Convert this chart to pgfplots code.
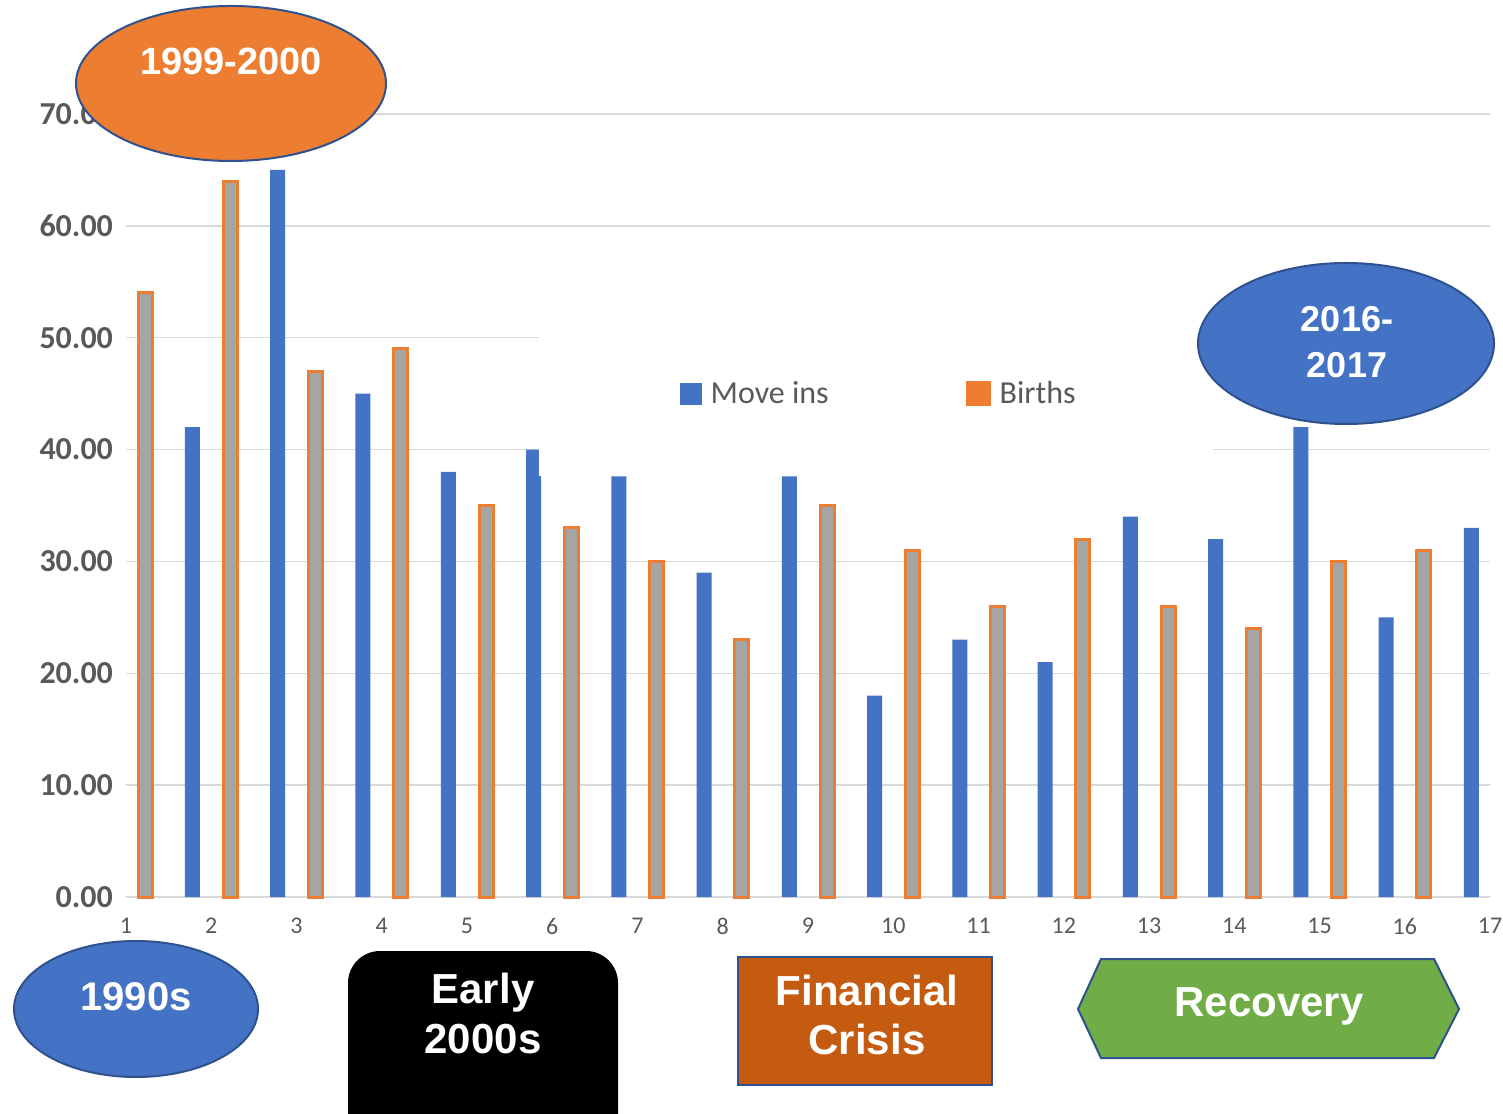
\documentclass[border=0pt]{standalone}
\usepackage{pgfplots}
\pgfplotsset{compat=1.18}
\usepackage{fontspec}
\setmainfont{Carlito}
\newfontfamily\annfont{Liberation Sans}

\definecolor{xblue}{HTML}{4472C4}
\definecolor{xorange}{HTML}{ED7D31}
\definecolor{xgray}{HTML}{A5A5A5}
\definecolor{xgrid}{HTML}{D9D9D9}
\definecolor{xtext}{HTML}{595959}
\definecolor{xedge}{HTML}{2F528F}
\definecolor{xdorange}{HTML}{C55A11}
\definecolor{xgreen}{HTML}{70AD47}

% picture laid out in pixels of the reference: 1 px = 0.5pt, origin at (126,897)
\tikzset{px/.style={x=0.5pt,y=-0.5pt,xshift=-63pt,yshift=448.5pt},
  ann/.style={text=white,align=center,font=\annfont\bfseries#1}}

\begin{document}
\begin{tikzpicture}
\begin{axis}[
    at={(0,0)}, anchor=south west,
    scale only axis,
    width=682pt, height=391.5pt,
    xmin=1, xmax=17, ymin=0, ymax=70,
    axis line style={draw=none},
    major tick length=0pt,
    xtick={1,...,17},
    ytick={0,10,...,70},
    ymajorgrids,
    grid style={xgrid, line width=0.75pt},
    /pgf/number format/assume math mode=true,
    yticklabel={\pgfmathprintnumber[fixed,fixed zerofill,precision=2]{\tick}},
    yticklabel style={font=\fontsize{16}{19}\selectfont\bfseries, text=xtext, xshift=-3pt},
    xticklabel style={font=\fontsize{12}{14}\selectfont, text=xtext, yshift=-7pt},
    clip=false,
    legend columns=2,
    legend style={draw=none, fill=none, at={(axis cs:7.49,45.0)}, anchor=west,
        inner sep=0pt, font=\fontsize{16}{19}\selectfont, text=xtext,
        /tikz/every even column/.append style={column sep=66.5pt},
        /tikz/every odd column/.append style={column sep=2.5pt}},
]
\addplot[ybar, bar shift=0pt, bar width=7.5pt, fill=xblue, draw=none,
    legend image code/.code={\fill[xblue] (0pt,-5.5pt) rectangle (11pt,5.5pt);}]
    coordinates {(1.78,42) (2.78,65) (3.78,45) (4.78,38) (5.78,40) (6.78,37.6)
    (7.78,29) (8.78,37.6) (9.78,18) (10.78,23) (11.78,21) (12.78,34)
    (13.78,32) (14.78,42) (15.78,25) (16.78,33)};
\addlegendentry{Move ins}
\addplot[ybar, bar shift=0pt, bar width=7pt, fill=xgray, draw=xorange, line width=1.5pt,
    legend image code/.code={\fill[xorange] (0pt,-5.5pt) rectangle (11pt,5.5pt);}]
    coordinates {(1.225,54) (2.225,64) (3.225,47) (4.225,49) (5.225,35) (6.225,33)
    (7.225,30) (8.225,23) (9.225,35) (10.225,31) (11.225,26) (12.225,32)
    (13.225,26) (14.225,24) (15.225,30) (16.225,31)};
\addlegendentry{Births}
% white legend area hiding the grid and bar tops behind it
\fill[white] (axis cs:5.845,37.6) rectangle (axis cs:13.75,52.5);
\end{axis}

\begin{scope}[px]
  \draw[xedge, line width=1pt, fill=xorange] (231,83.5) ellipse [x radius=155, y radius=77.5];
  \node[ann={\fontsize{19}{23}\selectfont}] at (231,61) {1999-2000};

  \draw[xedge, line width=1pt, fill=xblue] (1346,343.5) ellipse [x radius=148, y radius=80.5];
  \node[ann={\fontsize{18}{23}\selectfont}] at (1347,342) {2016-\\2017};

  \draw[xedge, line width=1pt, fill=xblue] (136,1009) ellipse [x radius=122, y radius=68];
  \node[ann={\fontsize{20}{24}\selectfont}] at (136,997) {1990s};

  \fill[black, rounded corners=16pt] (348,951) rectangle (618,1150);
  \node[ann={\fontsize{21}{25}\selectfont}] at (483,1013) {Early\\2000s};

  \draw[xedge, line width=1pt, fill=xdorange] (738,957) rectangle (992,1085);
  \node[ann={\fontsize{21}{24.5}\selectfont}] at (867,1015) {Financial\\Crisis};

  \draw[xedge, line width=1pt, fill=xgreen] (1078,1009) -- (1101,959) -- (1434,959)
    -- (1459,1009) -- (1434,1058) -- (1101,1058) -- cycle;
  \node[ann={\fontsize{21}{25}\selectfont}] at (1269,1006) {Recovery};
\end{scope}

\pgfresetboundingbox
\path[px] (0,0) rectangle (1503,1113);
\end{tikzpicture}
\end{document}
